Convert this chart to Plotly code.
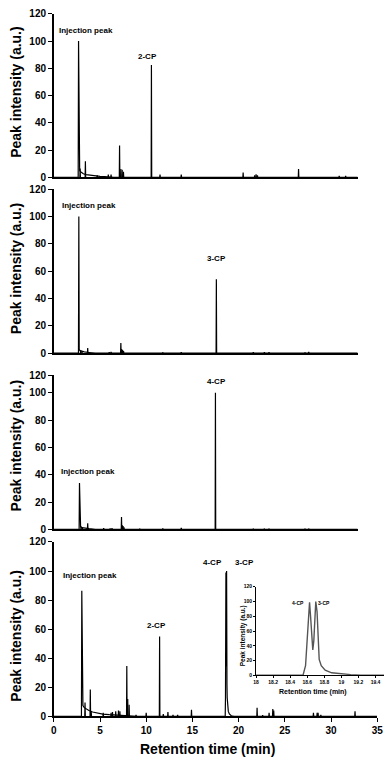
import plotly.graph_objects as go

# chromatograms of the chlorophenol samples (retention time in min, intensity in a.u.)
P1_TAIL_T = [2.64, 2.68, 2.72, 2.8, 2.9, 3.0, 3.2, 3.5, 4.0, 4.5, 5.0, 5.5, 6.5]
P1_TAIL_Y = [0, 100, 7, 5, 4, 3.3, 2.6, 2.0, 1.4, 1.0, 0.7, 0.5, 0]
P1_PEAK_T = [2.85, 3.42, 4.7, 5.9, 6.2, 7.12, 7.26, 7.4, 7.54, 10.57, 11.5, 13.8,
             20.5, 21.75, 21.9, 22.05, 26.5, 30.9, 31.6]
P1_PEAK_Y = [6.5, 11.8, 1.5, 2, 2, 23.4, 6, 5.5, 4, 82.5, 2, 2,
             3.4, 1.5, 2.2, 1.5, 6, 1, 1]

P2_TAIL_T = [2.67, 2.71, 2.75, 2.85, 3.0, 3.3, 3.8, 4.5]
P2_TAIL_Y = [0, 100, 2.5, 1.8, 1.3, 0.9, 0.5, 0]
P2_PEAK_T = [2.9, 3.05, 3.67, 6.0, 6.2, 7.26, 7.35, 7.45, 7.55, 11.8, 13.8, 17.6,
             21.6, 22.8, 23.3, 27.2, 27.6]
P2_PEAK_Y = [2, 1.5, 3.8, 0.8, 1, 7.4, 3, 2.2, 1.5, 0.6, 0.8, 54,
             0.8, 0.8, 0.8, 0.6, 1]

P3_TAIL_T = [2.74, 2.78, 2.82, 2.9, 3.05, 3.3, 3.8, 4.5]
P3_TAIL_Y = [0, 34, 2.5, 1.8, 1.3, 0.9, 0.5, 0]
P3_PEAK_T = [2.95, 3.1, 3.67, 5.4, 6.1, 6.3, 7.33, 7.42, 7.5, 7.6, 9.3, 11.8, 13.8,
             17.5, 21.6, 22.8, 23.3, 27.2, 27.6]
P3_PEAK_Y = [2, 1.5, 4.5, 0.8, 0.6, 0.8, 9, 3, 2.5, 1.5, 0.5, 0.6, 1,
             100, 0.5, 0.5, 0.5, 0.5, 0.5]

P4_TAIL_T = [2.99, 3.03, 3.07, 3.15, 3.3, 3.5, 3.8, 4.2, 4.7, 5.3, 6.0, 7.0, 8.0, 9.0]
P4_TAIL_Y = [0, 86.5, 9, 7.5, 6, 5, 4, 3, 2.2, 1.6, 1.2, 0.9, 0.7, 0]
P4_PEAK_T = [3.38, 3.95, 4.05, 5.35, 6.2, 6.35, 6.7, 7.0, 7.15, 7.9, 8.0, 8.15, 8.9,
             10.0, 11.45, 11.85, 12.35, 12.9, 13.4, 14.9, 22.0, 22.6, 23.3, 23.7,
             23.8, 28.1, 28.5, 28.6, 28.9, 32.6]
P4_PEAK_Y = [9.5, 18.5, 3, 2.5, 2.5, 3, 3.5, 4, 3.5, 34.6, 12, 8, 1,
             2.5, 55, 1.5, 3, 1, 1, 4.5, 6, 0.8, 2.5, 5,
             4, 2.5, 2.5, 2.5, 1, 3.5]

# 4-CP / 3-CP doublet (inset, also part of the mixture run)
CP_T = [18.0, 18.55, 18.58, 18.60, 18.62, 18.627, 18.64, 18.658, 18.665, 18.677,
        18.688, 18.70, 18.715, 18.726, 18.74, 18.764, 18.81, 18.886, 19.0, 19.11,
        19.23, 19.5]
CP_Y = [0, 0, 13, 52, 95, 99, 78, 43, 34.5, 47,
        82, 100, 86, 52, 21.5, 13, 7, 3.4, 1.7, 0.9,
        0.3, 0]

INSET_XTICKS = [18, 18.2, 18.4, 18.6, 18.8, 19, 19.2, 19.4]
Y_TICKS = [0, 20, 40, 60, 80, 100, 120]

W, H = 392, 764
FONT = "Arial, Liberation Sans, sans-serif"
HALF = 0.03  # half width of a spike (min)


def px(x):
    return x / W


def py(y):
    return 1 - y / H


def spikes(ts, ys):
    xs, vs = [], []
    for t, v in zip(ts, ys):
        xs += [t - HALF, t, t + HALF, None]
        vs += [0, v, 0, None]
    return xs, vs


fig = go.Figure()

panels = [
    (P1_TAIL_T, P1_TAIL_Y, P1_PEAK_T, P1_PEAK_Y, 32.9),
    (P2_TAIL_T, P2_TAIL_Y, P2_PEAK_T, P2_PEAK_Y, 32.9),
    (P3_TAIL_T, P3_TAIL_Y, P3_PEAK_T, P3_PEAK_Y, 32.9),
    (P4_TAIL_T, P4_TAIL_Y, P4_PEAK_T, P4_PEAK_Y, 35),
]
for i, (tt, ty, pt, pv, xmax) in enumerate(panels, start=1):
    ax = "" if i == 1 else str(i)
    bx = [0] + tt + [xmax]
    by = [0] + ty + [0]
    if i == 4:
        bx = [0] + tt + CP_T + [xmax]
        by = [0] + ty + CP_Y + [0]
    fig.add_trace(go.Scatter(x=bx, y=by, mode="lines", xaxis="x" + ax, yaxis="y" + ax,
                             line=dict(color="black", width=1.2), showlegend=False))
    sx, sy = spikes(pt, pv)
    fig.add_trace(go.Scatter(x=sx, y=sy, mode="lines", xaxis="x" + ax, yaxis="y" + ax,
                             line=dict(color="black", width=1.2), showlegend=False))

fig.add_trace(go.Scatter(x=CP_T, y=CP_Y, mode="lines", xaxis="x5", yaxis="y5",
                         line=dict(color="#555555", width=1.4), showlegend=False))

AX = dict(showline=True, linecolor="black", linewidth=1.5, showgrid=False,
          zeroline=False, mirror=False)
YAX = dict(**AX, ticks="outside", ticklen=4, tickwidth=1.3, tickcolor="black",
           tickfont=dict(family=FONT, size=10, color="black", weight="bold"),
           tickvals=Y_TICKS)

# pixel extents of each panel: (y of top, y of zero line, x right end)
frames = [(8, 174, 363), (186, 352.7, 363), (375, 531.7, 363), (544.5, 721.7, 383)]
layout = {}
for i, (top, bot, right) in enumerate(frames, start=1):
    ax = "" if i == 1 else str(i)
    xa = dict(**AX, domain=[px(52), px(right)], range=[0, panels[i - 1][4]],
              anchor="y" + ax, showticklabels=False, ticks="")
    ya = dict(**YAX, domain=[py(bot), py(top)], range=[0, 120], anchor="x" + ax)
    if i == 3:
        # the third panel's axis is cut short, its top tick still reads 120
        ya["range"] = [0, 113]
        ya["tickvals"] = [0, 20, 40, 60, 80, 100, 113]
        ya["ticktext"] = ["0", "20", "40", "60", "80", "100", "120"]
    if i == 4:
        xa.update(showticklabels=True, ticks="outside", ticklen=4, tickwidth=1.3,
                  tickcolor="black", dtick=5, tick0=0,
                  tickfont=dict(family=FONT, size=10, color="black", weight="bold"))
    layout["xaxis" + ax] = xa
    layout["yaxis" + ax] = ya

INSET_FONT = dict(family=FONT, size=5, color="black", weight="bold")
layout["xaxis5"] = dict(**{**AX, "linewidth": 1}, domain=[px(259), px(390)],
                        range=[18, 19.5], anchor="y5", ticks="outside", ticklen=2,
                        tickwidth=1, tickcolor="black", tickvals=INSET_XTICKS,
                        tickfont=INSET_FONT)
layout["yaxis5"] = dict(**{**AX, "linewidth": 1}, domain=[py(680), py(590)],
                        range=[0, 120], anchor="x5", ticks="outside", ticklen=2,
                        tickwidth=1, tickcolor="black", tickvals=Y_TICKS,
                        tickfont=INSET_FONT)

LBL = dict(family=FONT, size=8, color="black", weight="bold")
ann = [
    dict(x=3.5, y=108, xref="x", yref="y", text="Injection peak"),
    dict(x=10.15, y=89, xref="x", yref="y", text="2-CP"),
    dict(x=3.84, y=108, xref="x2", yref="y2", text="Injection peak"),
    dict(x=17.58, y=69, xref="x2", yref="y2", text="3-CP"),
    dict(x=3.67, y=42.6, xref="x3", yref="y3", text="Injection peak"),
    dict(x=17.6, y=108.3, xref="x3", yref="y3", text="4-CP"),
    dict(x=3.91, y=97.2, xref="x4", yref="y4", text="Injection peak"),
    dict(x=11.15, y=62.6, xref="x4", yref="y4", text="2-CP"),
    dict(x=17.13, y=105.6, xref="x4", yref="y4", text="4-CP"),
    dict(x=20.65, y=105.6, xref="x4", yref="y4", text="3-CP"),
]
for a in ann:
    a.update(font=LBL)
for t in (18.486, 18.8):
    ann.append(dict(x=t, y=97.7, xref="x5", yref="y5",
                    text="4-CP" if t < 18.7 else "3-CP",
                    font=dict(family=FONT, size=5, color="black", weight="bold")))

TITLE = dict(family=FONT, size=14, color="black", weight="bold")
for yc in (87.5, 266.7, 446.7, 640):
    ann.append(dict(x=px(13), y=py(yc), xref="paper", yref="paper",
                    text="Peak intensity (a.u.)", textangle=-90, font=TITLE))
ann.append(dict(x=px(209), y=py(755), xref="paper", yref="paper",
                text="Retention time (min)", font=TITLE))
ann.append(dict(x=px(317), y=py(697), xref="paper", yref="paper",
                text="Retention time (min)",
                font=dict(family=FONT, size=7, color="black", weight="bold")))
ann.append(dict(x=px(246), y=py(640), xref="paper", yref="paper",
                text="Peak intensity (a.u.)", textangle=-90,
                font=dict(family=FONT, size=6.5, color="black", weight="bold")))
for a in ann:
    a.update(showarrow=False, xanchor="center", yanchor="middle")

fig.update_layout(
    width=W, height=H, margin=dict(l=0, r=0, t=0, b=0),
    paper_bgcolor="white", plot_bgcolor="rgba(0,0,0,0)",
    annotations=ann, showlegend=False, **layout,
)
fig.write_html("out.html", config={"displayModeBar": False},
               post_script="document.body.style.margin='0';")
